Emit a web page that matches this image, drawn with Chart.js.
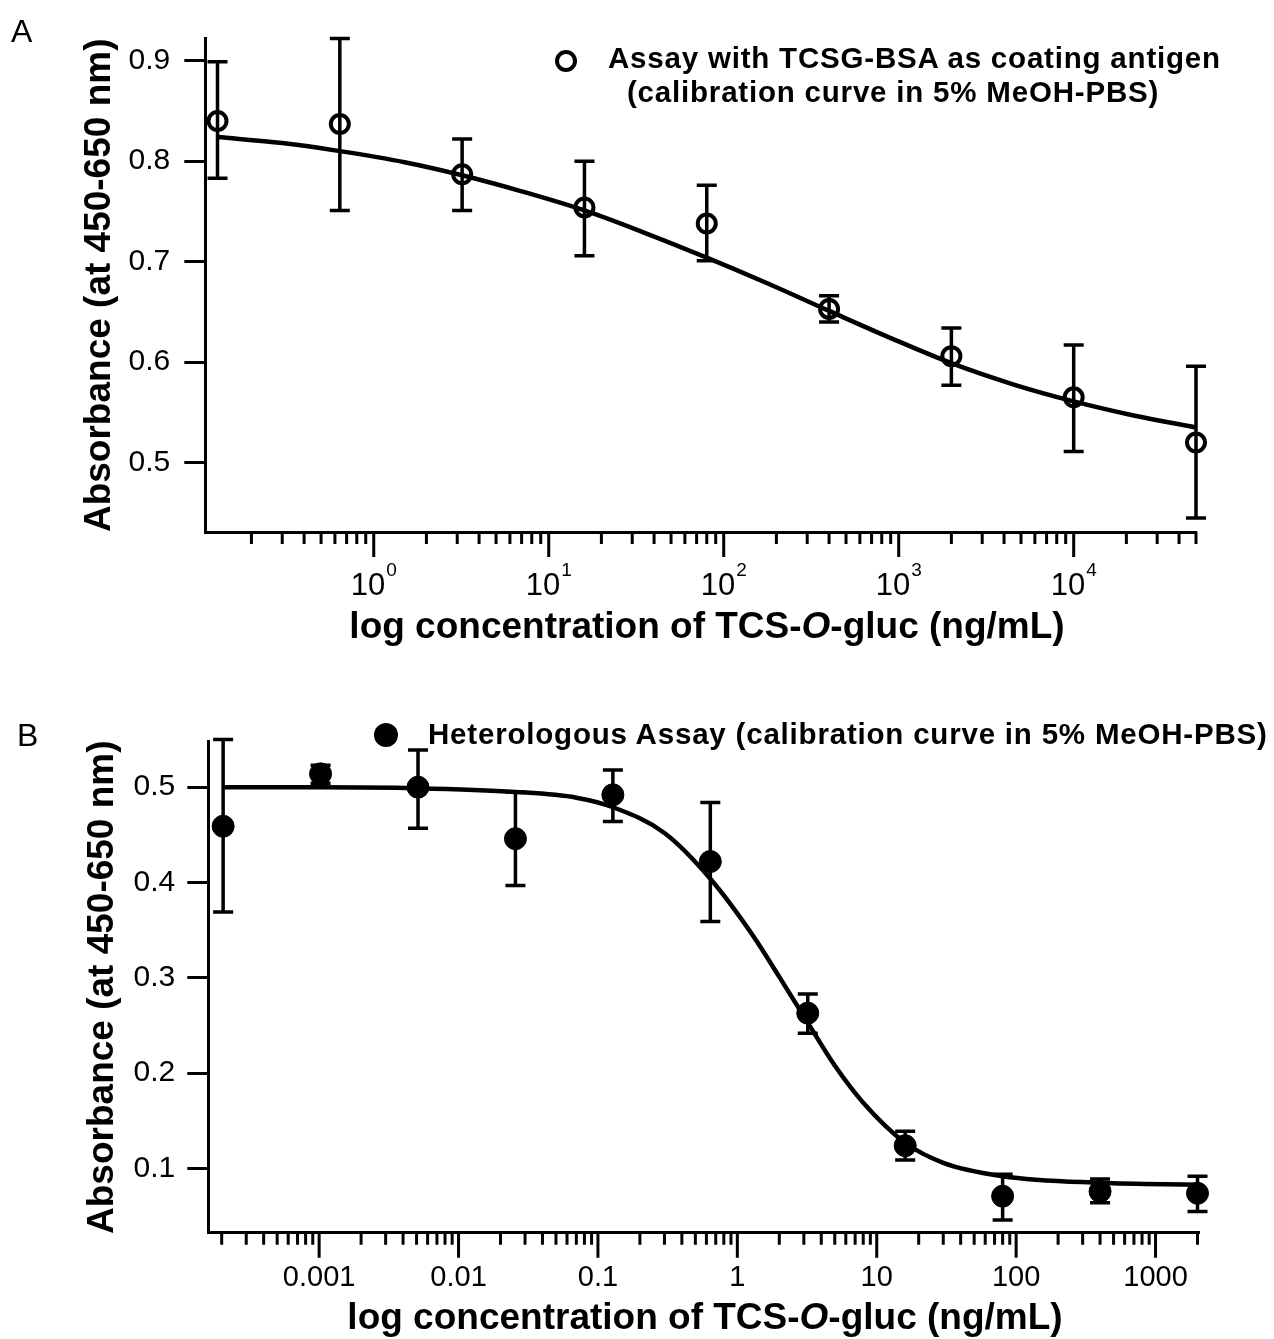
<!DOCTYPE html>
<html>
<head>
<meta charset="utf-8">
<script src="https://cdn.jsdelivr.net/npm/chart.js@4.4.1/dist/chart.umd.min.js"></script>
<style>
  html, body { margin: 0; padding: 0; background: #fff; }
  body { width: 1274px; height: 1339px; position: relative; overflow: hidden;
         font-family: "Liberation Sans", Arial, sans-serif; color: #000; }
  .panel { position: absolute; left: 0; width: 1274px; }
  #panelA { top: 0; height: 660px; }
  #panelB { top: 660px; height: 679px; }
  .txt { position: absolute; white-space: nowrap; line-height: 1; }
  .letter { font-size: 32px; }
  .legend { font-size: 29.5px; font-weight: bold; letter-spacing: 0.8px; }
  .xtitle { font-size: 37px; font-weight: bold; transform: translateX(-50%); }
  .mark { position: absolute; border-radius: 50%; box-sizing: border-box; }
</style>
</head>
<body>
<div class="panel" id="panelA"><canvas id="chartA"></canvas></div>
<div class="panel" id="panelB"><canvas id="chartB"></canvas></div>

<div class="txt letter" style="left:11px; top:15px;">A</div>
<div class="txt letter" style="left:17px; top:719px;">B</div>

<div class="mark" style="left:555px; top:50px; width:22px; height:22px; border:4px solid #000;"></div>
<div class="txt legend" style="left:608px; top:43px;">Assay with TCSG-BSA as coating antigen</div>
<div class="txt legend" style="left:627px; top:77px;">(calibration curve in 5% MeOH-PBS)</div>

<div class="mark" style="left:374px; top:723px; width:24px; height:24px; background:#000;"></div>
<div class="txt legend" style="left:428px; top:719px;">Heterologous Assay (calibration curve in 5% MeOH-PBS)</div>

<div class="txt xtitle" style="left:707px; top:607px;">log concentration of TCS-<i>O</i>-gluc (ng/mL)</div>
<div class="txt xtitle" style="left:705px; top:1298px;">log concentration of TCS-<i>O</i>-gluc (ng/mL)</div>

<script>
// panel A - TCSG-BSA coating antigen
const concA = [0.128, 0.64, 3.2, 16, 80, 400, 2000, 10000, 50000];
const absA = [0.840, 0.837, 0.787, 0.754, 0.738, 0.653, 0.606, 0.565, 0.520];
const absHiA = [0.899, 0.922, 0.822, 0.800, 0.776, 0.666, 0.634, 0.617, 0.596];
const absLoA = [0.783, 0.751, 0.751, 0.706, 0.701, 0.640, 0.577, 0.511, 0.445];
const fitConcA = [0.128, 0.3, 0.64, 1.5, 3.2, 7, 16, 35, 80, 180, 400, 900, 2000, 4500, 10000, 22000, 50000];
const fitAbsA = [0.824, 0.818, 0.810, 0.799, 0.786, 0.770, 0.751, 0.729, 0.704, 0.678, 0.651, 0.624, 0.599, 0.578, 0.561, 0.547, 0.535];
const yTicksA = [0.5, 0.6, 0.7, 0.8, 0.9];
const xMajorA = [1, 10, 100, 1000, 10000];
const xExpA = ['0', '1', '2', '3', '4'];   // labels are 10 with these exponents

// panel B - heterologous assay
const concB = [0.0002048, 0.001024, 0.00512, 0.0256, 0.128, 0.64, 3.2, 16, 80, 400, 2000];
const absB = [0.459, 0.514, 0.500, 0.446, 0.492, 0.422, 0.263, 0.124, 0.071, 0.076, 0.074];
const absHiB = [0.550, 0.523, 0.539, 0.495, 0.518, 0.484, 0.283, 0.139, 0.094, 0.089, 0.092];
const absLoB = [0.369, 0.504, 0.457, 0.397, 0.464, 0.359, 0.242, 0.109, 0.046, 0.064, 0.055];
const fitConcB = [0.0002048, 0.001, 0.005, 0.0256, 0.07, 0.128, 0.3, 0.64, 1.3, 2, 3.2, 5, 8, 16, 30, 80, 400, 2000];
const fitAbsB = [0.500, 0.500, 0.499, 0.495, 0.489, 0.479, 0.452, 0.404, 0.344, 0.301, 0.253, 0.208, 0.169, 0.127, 0.106, 0.092, 0.085, 0.083];
const yTicksB = [0.1, 0.2, 0.3, 0.4, 0.5];
const xMajorB = [0.001, 0.01, 0.1, 1, 10, 100, 1000];
const xLabelsB = ['0.001', '0.01', '0.1', '1', '10', '100', '1000'];

const FONT = "'Liberation Sans', Arial, sans-serif";
Chart.defaults.font.family = FONT;
Chart.defaults.color = '#000';

function sameDecade(a, b) {
    return Math.abs(Math.log10(a) - Math.log10(b)) < 1e-6;
}

// decade ticks plus 2..9 minor ticks inside the axis range
function logTickList(min, max, majors) {
    const list = [];
    for (let e = Math.floor(Math.log10(min)); e <= Math.ceil(Math.log10(max)); e++) {
        for (let k = 1; k <= 9; k++) {
            const v = k * Math.pow(10, e);
            if (v < min * 0.999 || v > max * 1.001) continue;
            list.push({ value: v, major: majors.some(m => sameDecade(m, v)) });
        }
    }
    return list;
}

function errorBarPlugin(xs, lo, hi) {
    return {
        id: 'errorBars',
        beforeDatasetsDraw(chart) {
            const { ctx, scales } = chart;
            ctx.save();
            ctx.strokeStyle = '#000';
            ctx.lineWidth = 3.5;
            xs.forEach((v, i) => {
                const px = scales.x.getPixelForValue(v);
                const top = scales.y.getPixelForValue(hi[i]);
                const bot = scales.y.getPixelForValue(lo[i]);
                ctx.beginPath();
                ctx.moveTo(px, top);
                ctx.lineTo(px, bot);
                ctx.moveTo(px - 10, top);
                ctx.lineTo(px + 10, top);
                ctx.moveTo(px - 10, bot);
                ctx.lineTo(px + 10, bot);
                ctx.stroke();
            });
            ctx.restore();
        }
    };
}

const xTickMarks = {
    id: 'xTickMarks',
    afterDraw(chart) {
        const sc = chart.scales.x;
        const ctx = chart.ctx;
        ctx.save();
        ctx.strokeStyle = '#000';
        ctx.lineWidth = 3;
        ctx.beginPath();
        sc.ticks.forEach(t => {
            const px = sc.getPixelForValue(t.value);
            ctx.moveTo(px, sc.top);
            ctx.lineTo(px, sc.top + (t.major ? 25 : 12));
        });
        ctx.stroke();
        ctx.restore();
    }
};

// "10" with a raised exponent under each decade tick of panel A
const powerLabels = {
    id: 'powerLabels',
    afterDraw(chart) {
        const sc = chart.scales.x;
        const ctx = chart.ctx;
        ctx.save();
        ctx.fillStyle = '#000';
        ctx.textBaseline = 'alphabetic';
        ctx.textAlign = 'left';
        xMajorA.forEach((v, i) => {
            const px = sc.getPixelForValue(v);
            ctx.font = '31px ' + FONT;
            const wBase = ctx.measureText('10').width;
            ctx.font = '19px ' + FONT;
            const wExp = ctx.measureText(xExpA[i]).width;
            const x0 = px - (wBase + wExp + 1) / 2;
            ctx.font = '31px ' + FONT;
            ctx.fillText('10', x0, sc.top + 63);
            ctx.font = '19px ' + FONT;
            ctx.fillText(xExpA[i], x0 + wBase + 1, sc.top + 44);
        });
        ctx.restore();
    }
};

function makeChart(id, cfg) {
    return new Chart(document.getElementById(id), {
        type: 'scatter',
        data: {
            datasets: [{
                data: cfg.xs.map((x, i) => ({ x: x, y: cfg.ys[i] })),
                order: 0,
                clip: false,
                showLine: false,
                pointRadius: cfg.pointRadius,
                pointBorderWidth: cfg.pointBorder,
                pointBorderColor: '#000',
                pointBackgroundColor: cfg.pointFill
            }, {
                data: cfg.fitX.map((x, i) => ({ x: x, y: cfg.fitY[i] })),
                order: 1,
                showLine: true,
                borderColor: '#000',
                borderWidth: 4.5,
                pointRadius: 0,
                cubicInterpolationMode: 'monotone'
            }]
        },
        options: {
            responsive: true,
            maintainAspectRatio: false,
            animation: false,
            events: [],
            layout: { padding: { top: cfg.padTop, right: cfg.padRight, bottom: 0, left: 0 } },
            plugins: { legend: { display: false }, tooltip: { enabled: false } },
            scales: {
                x: {
                    type: 'logarithmic',
                    min: cfg.xMin,
                    max: cfg.xMax,
                    afterBuildTicks: scale => { scale.ticks = logTickList(cfg.xMin, cfg.xMax, cfg.majors); },
                    afterFit: scale => { scale.height = cfg.xHeight; },
                    grid: { display: false },
                    border: { display: true, color: '#000', width: 3 },
                    ticks: {
                        display: cfg.labels !== null,
                        autoSkip: false,
                        maxRotation: 0,
                        minRotation: 0,
                        padding: cfg.xLabelPad,
                        font: { size: cfg.xFont },
                        callback: function(value) {
                            if (!cfg.labels) return '';
                            const idx = cfg.majors.findIndex(m => sameDecade(m, value));
                            return idx >= 0 ? cfg.labels[idx] : '';
                        }
                    }
                },
                y: {
                    type: 'linear',
                    min: cfg.yMin,
                    max: cfg.yMax,
                    afterBuildTicks: scale => { scale.ticks = cfg.yTicks.map(v => ({ value: v })); },
                    afterFit: scale => { scale.width = cfg.yWidth; },
                    grid: { display: true, drawOnChartArea: false, drawTicks: true, tickLength: 21, tickWidth: 3, tickColor: '#000' },
                    border: { display: true, color: '#000', width: 3 },
                    ticks: {
                        padding: cfg.yLabelPad,
                        font: { size: 30 },
                        callback: value => value.toFixed(1)
                    },
                    title: {
                        display: true,
                        text: 'Absorbance (at 450-650 nm)',
                        font: { size: 37, weight: 'bold' },
                        padding: { top: cfg.yTitlePad, bottom: 0 }
                    }
                }
            }
        },
        plugins: [errorBarPlugin(cfg.xs, cfg.lo, cfg.hi), xTickMarks].concat(cfg.extra)
    });
}

makeChart('chartA', {
    xs: concA, ys: absA, lo: absLoA, hi: absHiA, fitX: fitConcA, fitY: fitAbsA,
    pointRadius: 9, pointBorder: 4, pointFill: 'rgba(0,0,0,0)',
    xMin: 0.109, xMax: 50000, majors: xMajorA, labels: null,
    yMin: 0.431, yMax: 0.922, yTicks: yTicksA,
    padTop: 38.6, padRight: 78, xHeight: 128, yWidth: 205.3,
    xLabelPad: 30, xFont: 31, yLabelPad: 14, yTitlePad: 78,
    extra: [powerLabels]
});

makeChart('chartB', {
    xs: concB, ys: absB, lo: absLoB, hi: absHiB, fitX: fitConcB, fitY: fitAbsB,
    pointRadius: 11, pointBorder: 1, pointFill: '#000',
    xMin: 0.0001603, xMax: 2050, majors: xMajorB, labels: xLabelsB,
    yMin: 0.0327, yMax: 0.5477, yTicks: yTicksB,
    padTop: 81.7, padRight: 75, xHeight: 106.3, yWidth: 208.3,
    xLabelPad: 20, xFont: 29, yLabelPad: 12, yTitlePad: 81,
    extra: []
});
</script>
</body>
</html>
